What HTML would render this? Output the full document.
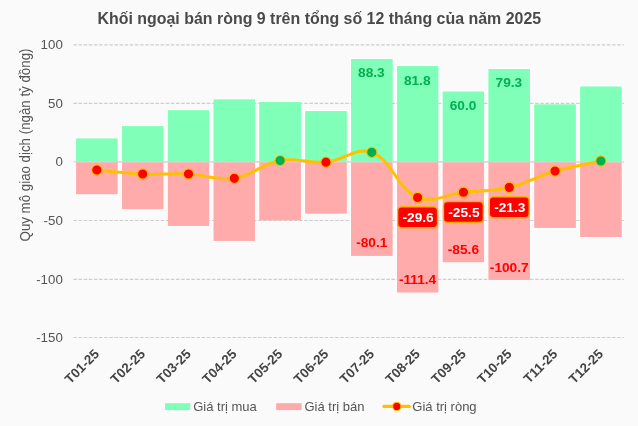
<!DOCTYPE html>
<html><head><meta charset="utf-8"><title>Chart</title>
<style>html,body{margin:0;padding:0;background:#fafafa;}body{width:638px;height:426px;overflow:hidden;font-family:"Liberation Sans",sans-serif;}</style></head>
<body>
<svg width="638" height="426" viewBox="0 0 638 426" style="display:block;will-change:transform;font-family:'Liberation Sans',sans-serif">
<rect width="638" height="426" fill="#fafafa"/>
<text x="319.3" y="24.3" text-anchor="middle" font-size="15.95" font-weight="bold" fill="#4a4a4a">Khối ngoại bán ròng 9 trên tổng số 12 tháng của năm 2025</text>
<text x="62.8" y="49.30" text-anchor="end" font-size="13.3" fill="#555">100</text>
<text x="62.8" y="107.80" text-anchor="end" font-size="13.3" fill="#555">50</text>
<text x="62.8" y="166.10" text-anchor="end" font-size="13.3" fill="#555">0</text>
<text x="62.8" y="225.00" text-anchor="end" font-size="13.3" fill="#555">-50</text>
<text x="62.8" y="283.90" text-anchor="end" font-size="13.3" fill="#555">-100</text>
<text x="62.8" y="342.00" text-anchor="end" font-size="13.3" fill="#555">-150</text>
<text transform="translate(29.9,145) rotate(-90) scale(1,1.13)" text-anchor="middle" font-size="13.3" fill="#555">Quy mô giao dịch (ngàn tỷ đồng)</text>
<rect x="76.24" y="138.63" width="41.24" height="23.30" fill="#80ffb8" stroke="#fff" stroke-width="2" paint-order="stroke"/>
<rect x="76.24" y="161.93" width="41.24" height="32.20" fill="#ffabab" stroke="#fff" stroke-width="2" paint-order="stroke"/>
<rect x="122.06" y="126.34" width="41.24" height="35.59" fill="#80ffb8" stroke="#fff" stroke-width="2" paint-order="stroke"/>
<rect x="122.06" y="161.93" width="41.24" height="47.18" fill="#ffabab" stroke="#fff" stroke-width="2" paint-order="stroke"/>
<rect x="167.88" y="110.41" width="41.24" height="51.52" fill="#80ffb8" stroke="#fff" stroke-width="2" paint-order="stroke"/>
<rect x="167.88" y="161.93" width="41.24" height="63.93" fill="#ffabab" stroke="#fff" stroke-width="2" paint-order="stroke"/>
<rect x="213.70" y="99.53" width="41.24" height="62.40" fill="#80ffb8" stroke="#fff" stroke-width="2" paint-order="stroke"/>
<rect x="213.70" y="161.93" width="41.24" height="78.79" fill="#ffabab" stroke="#fff" stroke-width="2" paint-order="stroke"/>
<rect x="259.52" y="102.10" width="41.24" height="59.83" fill="#80ffb8" stroke="#fff" stroke-width="2" paint-order="stroke"/>
<rect x="259.52" y="161.93" width="41.24" height="58.31" fill="#ffabab" stroke="#fff" stroke-width="2" paint-order="stroke"/>
<rect x="305.34" y="111.12" width="41.24" height="50.81" fill="#80ffb8" stroke="#fff" stroke-width="2" paint-order="stroke"/>
<rect x="305.34" y="161.93" width="41.24" height="51.52" fill="#ffabab" stroke="#fff" stroke-width="2" paint-order="stroke"/>
<rect x="351.16" y="59.13" width="41.24" height="102.80" fill="#80ffb8" stroke="#fff" stroke-width="2" paint-order="stroke"/>
<rect x="351.16" y="161.93" width="41.24" height="93.78" fill="#ffabab" stroke="#fff" stroke-width="2" paint-order="stroke"/>
<rect x="396.98" y="66.16" width="41.24" height="95.77" fill="#80ffb8" stroke="#fff" stroke-width="2" paint-order="stroke"/>
<rect x="396.98" y="161.93" width="41.24" height="130.43" fill="#ffabab" stroke="#fff" stroke-width="2" paint-order="stroke"/>
<rect x="442.80" y="91.68" width="41.24" height="70.25" fill="#80ffb8" stroke="#fff" stroke-width="2" paint-order="stroke"/>
<rect x="442.80" y="161.93" width="41.24" height="100.22" fill="#ffabab" stroke="#fff" stroke-width="2" paint-order="stroke"/>
<rect x="488.62" y="69.09" width="41.24" height="92.84" fill="#80ffb8" stroke="#fff" stroke-width="2" paint-order="stroke"/>
<rect x="488.62" y="161.93" width="41.24" height="117.90" fill="#ffabab" stroke="#fff" stroke-width="2" paint-order="stroke"/>
<rect x="534.44" y="104.56" width="41.24" height="57.37" fill="#80ffb8" stroke="#fff" stroke-width="2" paint-order="stroke"/>
<rect x="534.44" y="161.93" width="41.24" height="65.92" fill="#ffabab" stroke="#fff" stroke-width="2" paint-order="stroke"/>
<rect x="580.26" y="86.65" width="41.24" height="75.28" fill="#80ffb8" stroke="#fff" stroke-width="2" paint-order="stroke"/>
<rect x="580.26" y="161.93" width="41.24" height="74.93" fill="#ffabab" stroke="#fff" stroke-width="2" paint-order="stroke"/>
<line x1="73.4" x2="623.9" y1="44.80" y2="44.80" stroke="#cecece" stroke-width="1.15" stroke-dasharray="3.5,1.63"/>
<line x1="73.4" x2="623.9" y1="103.30" y2="103.30" stroke="#cecece" stroke-width="1.15" stroke-dasharray="3.5,1.63"/>
<line x1="73.4" x2="623.9" y1="220.50" y2="220.50" stroke="#cecece" stroke-width="1.15" stroke-dasharray="3.5,1.63"/>
<line x1="73.4" x2="623.9" y1="279.40" y2="279.40" stroke="#cecece" stroke-width="1.15" stroke-dasharray="3.5,1.63"/>
<line x1="73.4" x2="623.9" y1="337.50" y2="337.50" stroke="#cecece" stroke-width="1.15" stroke-dasharray="3.5,1.63"/>
<line x1="73.4" x2="623.9" y1="161.93" y2="161.93" stroke="#cdcdcd" stroke-width="1"/>
<rect x="76.24" y="138.63" width="41.24" height="23.30" fill="#80ffb8"/>
<rect x="76.24" y="161.93" width="41.24" height="32.20" fill="#ffabab"/>
<rect x="122.06" y="126.34" width="41.24" height="35.59" fill="#80ffb8"/>
<rect x="122.06" y="161.93" width="41.24" height="47.18" fill="#ffabab"/>
<rect x="167.88" y="110.41" width="41.24" height="51.52" fill="#80ffb8"/>
<rect x="167.88" y="161.93" width="41.24" height="63.93" fill="#ffabab"/>
<rect x="213.70" y="99.53" width="41.24" height="62.40" fill="#80ffb8"/>
<rect x="213.70" y="161.93" width="41.24" height="78.79" fill="#ffabab"/>
<rect x="259.52" y="102.10" width="41.24" height="59.83" fill="#80ffb8"/>
<rect x="259.52" y="161.93" width="41.24" height="58.31" fill="#ffabab"/>
<rect x="305.34" y="111.12" width="41.24" height="50.81" fill="#80ffb8"/>
<rect x="305.34" y="161.93" width="41.24" height="51.52" fill="#ffabab"/>
<rect x="351.16" y="59.13" width="41.24" height="102.80" fill="#80ffb8"/>
<rect x="351.16" y="161.93" width="41.24" height="93.78" fill="#ffabab"/>
<rect x="396.98" y="66.16" width="41.24" height="95.77" fill="#80ffb8"/>
<rect x="396.98" y="161.93" width="41.24" height="130.43" fill="#ffabab"/>
<rect x="442.80" y="91.68" width="41.24" height="70.25" fill="#80ffb8"/>
<rect x="442.80" y="161.93" width="41.24" height="100.22" fill="#ffabab"/>
<rect x="488.62" y="69.09" width="41.24" height="92.84" fill="#80ffb8"/>
<rect x="488.62" y="161.93" width="41.24" height="117.90" fill="#ffabab"/>
<rect x="534.44" y="104.56" width="41.24" height="57.37" fill="#80ffb8"/>
<rect x="534.44" y="161.93" width="41.24" height="65.92" fill="#ffabab"/>
<rect x="580.26" y="86.65" width="41.24" height="75.28" fill="#80ffb8"/>
<rect x="580.26" y="161.93" width="41.24" height="74.93" fill="#ffabab"/>
<line x1="76.24000000000001" x2="621.5000000000001" y1="161.93" y2="161.93" stroke="#d6d6de" stroke-width="1.2" opacity="0.75"/>
<text x="371.38" y="76.90" text-anchor="middle" font-size="13.7" font-weight="bold" fill="#00b050">88.3</text>
<text x="417.20" y="85.20" text-anchor="middle" font-size="13.7" font-weight="bold" fill="#00b050">81.8</text>
<text x="463.02" y="110.20" text-anchor="middle" font-size="13.7" font-weight="bold" fill="#00b050">60.0</text>
<text x="508.84" y="86.90" text-anchor="middle" font-size="13.7" font-weight="bold" fill="#00b050">79.3</text>
<text x="371.78" y="247.21" text-anchor="middle" font-size="13.7" font-weight="bold" fill="#ff0000">-80.1</text>
<text x="417.60" y="283.86" text-anchor="middle" font-size="13.7" font-weight="bold" fill="#ff0000">-111.4</text>
<text x="463.42" y="253.65" text-anchor="middle" font-size="13.7" font-weight="bold" fill="#ff0000">-85.6</text>
<text x="509.24" y="271.83" text-anchor="middle" font-size="13.7" font-weight="bold" fill="#ff0000">-100.7</text>
<path d="M96.86,170.01 C115.19,171.60 124.32,173.19 142.68,173.99 C160.97,174.78 170.21,173.12 188.50,173.99 C206.87,174.86 216.59,180.93 234.32,178.32 C253.25,175.54 261.17,163.87 280.14,160.53 C297.83,157.41 307.83,163.79 325.96,162.16 C344.49,160.51 356.33,146.37 371.78,152.33 C392.99,160.51 396.25,188.22 417.60,197.52 C432.90,204.19 445.08,194.27 463.42,192.25 C481.74,190.24 491.41,191.58 509.24,187.45 C528.07,183.10 536.40,176.45 555.06,171.06 C573.05,165.87 582.55,165.02 600.88,160.99" fill="none" stroke="#ffc000" stroke-width="3" stroke-linejoin="round" stroke-linecap="round"/>
<circle cx="96.86" cy="170.01" r="5.15" fill="#ff0000" stroke="#ffc000" stroke-width="1.1"/>
<circle cx="142.68" cy="173.99" r="5.15" fill="#ff0000" stroke="#ffc000" stroke-width="1.1"/>
<circle cx="188.50" cy="173.99" r="5.15" fill="#ff0000" stroke="#ffc000" stroke-width="1.1"/>
<circle cx="234.32" cy="178.32" r="5.15" fill="#ff0000" stroke="#ffc000" stroke-width="1.1"/>
<circle cx="280.14" cy="160.53" r="5.15" fill="#00b050" stroke="#ffc000" stroke-width="1.1"/>
<circle cx="325.96" cy="162.16" r="5.15" fill="#ff0000" stroke="#ffc000" stroke-width="1.1"/>
<circle cx="371.78" cy="152.33" r="5.15" fill="#00b050" stroke="#ffc000" stroke-width="1.1"/>
<circle cx="417.60" cy="197.52" r="5.15" fill="#ff0000" stroke="#ffc000" stroke-width="1.1"/>
<circle cx="463.42" cy="192.25" r="5.15" fill="#ff0000" stroke="#ffc000" stroke-width="1.1"/>
<circle cx="509.24" cy="187.45" r="5.15" fill="#ff0000" stroke="#ffc000" stroke-width="1.1"/>
<circle cx="555.06" cy="171.06" r="5.15" fill="#ff0000" stroke="#ffc000" stroke-width="1.1"/>
<circle cx="600.88" cy="160.99" r="5.15" fill="#00b050" stroke="#ffc000" stroke-width="1.1"/>
<rect x="397.65" y="206.82" width="39.9" height="21.0" rx="4" fill="#ff0000" stroke="#ffb000" stroke-width="1.4"/>
<text x="418.10" y="222.32" text-anchor="middle" font-size="13.7" font-weight="bold" fill="#fff">-29.6</text>
<rect x="443.47" y="201.55" width="39.9" height="21.0" rx="4" fill="#ff0000" stroke="#ffb000" stroke-width="1.4"/>
<text x="463.92" y="217.05" text-anchor="middle" font-size="13.7" font-weight="bold" fill="#fff">-25.5</text>
<rect x="489.29" y="196.75" width="39.9" height="21.0" rx="4" fill="#ff0000" stroke="#ffb000" stroke-width="1.4"/>
<text x="509.74" y="212.25" text-anchor="middle" font-size="13.7" font-weight="bold" fill="#fff">-21.3</text>
<text transform="translate(100.06,354.7) rotate(-45)" text-anchor="end" font-size="13.3" font-weight="bold" fill="#444">T01-25</text>
<text transform="translate(145.88,354.7) rotate(-45)" text-anchor="end" font-size="13.3" font-weight="bold" fill="#444">T02-25</text>
<text transform="translate(191.70,354.7) rotate(-45)" text-anchor="end" font-size="13.3" font-weight="bold" fill="#444">T03-25</text>
<text transform="translate(237.52,354.7) rotate(-45)" text-anchor="end" font-size="13.3" font-weight="bold" fill="#444">T04-25</text>
<text transform="translate(283.34,354.7) rotate(-45)" text-anchor="end" font-size="13.3" font-weight="bold" fill="#444">T05-25</text>
<text transform="translate(329.16,354.7) rotate(-45)" text-anchor="end" font-size="13.3" font-weight="bold" fill="#444">T06-25</text>
<text transform="translate(374.98,354.7) rotate(-45)" text-anchor="end" font-size="13.3" font-weight="bold" fill="#444">T07-25</text>
<text transform="translate(420.80,354.7) rotate(-45)" text-anchor="end" font-size="13.3" font-weight="bold" fill="#444">T08-25</text>
<text transform="translate(466.62,354.7) rotate(-45)" text-anchor="end" font-size="13.3" font-weight="bold" fill="#444">T09-25</text>
<text transform="translate(512.44,354.7) rotate(-45)" text-anchor="end" font-size="13.3" font-weight="bold" fill="#444">T10-25</text>
<text transform="translate(558.26,354.7) rotate(-45)" text-anchor="end" font-size="13.3" font-weight="bold" fill="#444">T11-25</text>
<text transform="translate(604.08,354.7) rotate(-45)" text-anchor="end" font-size="13.3" font-weight="bold" fill="#444">T12-25</text>
<rect x="165" y="403.2" width="25.3" height="6.9" fill="#80ffb8"/>
<text x="193.2" y="411.3" font-size="13" fill="#555">Giá trị mua</text>
<rect x="276.2" y="403.2" width="25.5" height="6.9" fill="#ffabab"/>
<text x="304.5" y="411.3" font-size="13" fill="#555">Giá trị bán</text>
<line x1="384" x2="409.3" y1="406.4" y2="406.4" stroke="#ffc000" stroke-width="3.3" stroke-linecap="round"/>
<circle cx="396.8" cy="406.4" r="4.15" fill="#ff0000" stroke="#ffc000" stroke-width="1.1"/>
<text x="412.3" y="411.3" font-size="13" fill="#555">Giá trị ròng</text>
</svg>
</body></html>
